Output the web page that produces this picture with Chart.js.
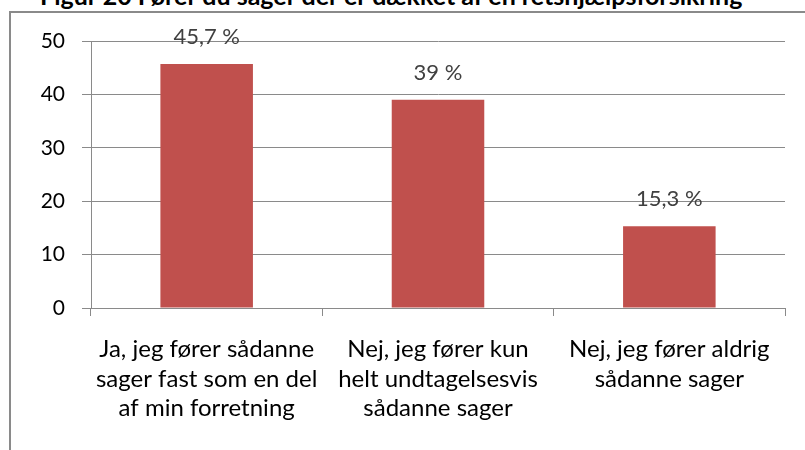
<!DOCTYPE html>
<html lang="da">
<head>
<meta charset="UTF-8">
<title>Figur 20</title>
<script src="https://cdn.jsdelivr.net/npm/chart.js"></script>
<style>
  body { margin: 0; background: #fff; }
  #wrap { position: relative; width: 805px; height: 450px; overflow: hidden; }
  #title { position: absolute; left: 40px; top: -20px; font: bold 25px Lato, sans-serif; color: #000; white-space: nowrap; }
  #frame { position: absolute; left: 9px; top: 11px; width: 900px; height: 500px; border-left: 2px solid #8a8a8a; border-top: 2px solid #8a8a8a; }
  canvas { position: absolute; left: 0; top: 0; }
</style>
</head>
<body>
<div id="wrap">
  <div id="title">Figur 20 Fører du sager der er dækket af en retshjælpsforsikring</div>
  <div id="frame"></div>
  <canvas id="chart" width="805" height="450"></canvas>
</div>
<script>
const categories = [
  ['Ja, jeg fører sådanne', 'sager fast som en del', 'af min forretning'],
  ['Nej, jeg fører kun', 'helt undtagelsesvis', 'sådanne sager'],
  ['Nej, jeg fører aldrig', 'sådanne sager']
];
const values = [45.7, 39, 15.3];
const valueLabels = ['45,7 %', '39 %', '15,3 %'];
const yTicks = [0, 10, 20, 30, 40, 50];

const FONT = 'Lato, sans-serif';

// labels over the bars
const barLabels = {
  id: 'barLabels',
  afterDatasetsDraw(chart) {
    const ctx = chart.ctx;
    const meta = chart.getDatasetMeta(0);
    ctx.save();
    ctx.font = '22px ' + FONT;
    ctx.fillStyle = '#404040';
    ctx.textAlign = 'center';
    ctx.textBaseline = 'bottom';
    meta.data.forEach((bar, i) => {
      ctx.fillText(valueLabels[i], bar.x, bar.y - 16);
    });
    ctx.restore();
  }
};

new Chart(document.getElementById('chart'), {
  type: 'bar',
  data: {
    labels: categories,
    datasets: [{
      data: values,
      backgroundColor: '#C0504D',
      borderWidth: 0,
      categoryPercentage: 1,
      barPercentage: 0.4
    }]
  },
  options: {
    responsive: false,
    animation: false,
    layout: { padding: { left: 0, right: 20, top: 41, bottom: 0 } },
    plugins: { legend: { display: false }, tooltip: { enabled: false } },
    scales: {
      x: {
        grid: { offset: true, drawOnChartArea: false, color: '#8a8a8a', tickLength: 8 },
        border: { color: '#8a8a8a' },
        ticks: { color: '#000', font: { family: FONT, size: 24, lineHeight: 1.22 }, maxRotation: 0, padding: 19 },
        afterFit(scale) { scale.height = 142; }
      },
      y: {
        min: 0,
        max: 50,
        afterBuildTicks(scale) { scale.ticks = yTicks.map(v => ({ value: v })); },
        grid: { color: '#8a8a8a', tickLength: 9 },
        border: { color: '#8a8a8a' },
        ticks: { color: '#000', font: { family: FONT, size: 21 }, padding: 17 },
        afterFit(scale) { scale.width = 91; }
      }
    }
  },
  plugins: [barLabels]
});
</script>
</body>
</html>
